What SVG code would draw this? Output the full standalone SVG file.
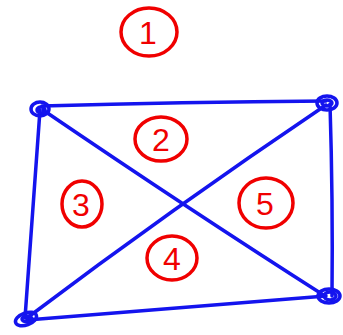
<svg xmlns="http://www.w3.org/2000/svg" width="343" height="335" viewBox="0 0 343 335">
<style>
.edge{fill:none;stroke:#1414ee;stroke-width:3.5;stroke-linecap:round;stroke-linejoin:round}
.vtx{fill:none;stroke:#1414ee;stroke-width:3.5}
.ring{fill:none;stroke:#f00000;stroke-width:3.5}
.num{fill:#f00000;font-family:"Liberation Sans",Arial,sans-serif;font-size:32px;text-anchor:middle}
</style>
<rect width="343" height="335" fill="#ffffff"/>
<g id="connectors">
<path class="edge" d="M42 106 Q180 102 326 101"/>
<path class="edge" d="M40 110 Q33 210 25 318"/>
<path class="edge" d="M330 104 Q333 200 332 296"/>
<path class="edge" d="M27 320 Q180 308 326 296"/>
<path class="edge" d="M43 110 Q190 210 325 296"/>
<path class="edge" d="M326 105 Q170 210 27 318"/>
</g>
<g id="v-tl"><ellipse class="vtx" cx="40" cy="109" rx="9" ry="7"/><ellipse class="vtx" cx="41" cy="110" rx="4" ry="3"/></g>
<g id="v-tr"><ellipse class="vtx" cx="327" cy="103" rx="10" ry="7"/><ellipse class="vtx" cx="327" cy="103" rx="5" ry="3"/></g>
<g id="v-bl"><ellipse class="vtx" cx="26" cy="319" rx="11" ry="6" transform="rotate(-20 26 319)"/><ellipse class="vtx" cx="27" cy="319" rx="5" ry="3"/></g>
<g id="v-br"><ellipse class="vtx" cx="329" cy="296" rx="11" ry="7"/><ellipse class="vtx" cx="330" cy="296" rx="6" ry="4"/></g>
<g id="r1"><ellipse class="ring" cx="149" cy="32" rx="28" ry="24"/><text class="num" x="148" y="44">1</text></g>
<g id="r2"><ellipse class="ring" cx="161" cy="139" rx="26" ry="22"/><text class="num" x="161" y="151">2</text></g>
<g id="r3"><ellipse class="ring" cx="82" cy="204" rx="20" ry="23"/><text class="num" x="81" y="216">3</text></g>
<g id="r4"><ellipse class="ring" cx="172" cy="258" rx="25" ry="22"/><text class="num" x="172" y="270">4</text></g>
<g id="r5"><ellipse class="ring" cx="266" cy="203" rx="27" ry="25"/><text class="num" x="265" y="215">5</text></g>
</svg>
